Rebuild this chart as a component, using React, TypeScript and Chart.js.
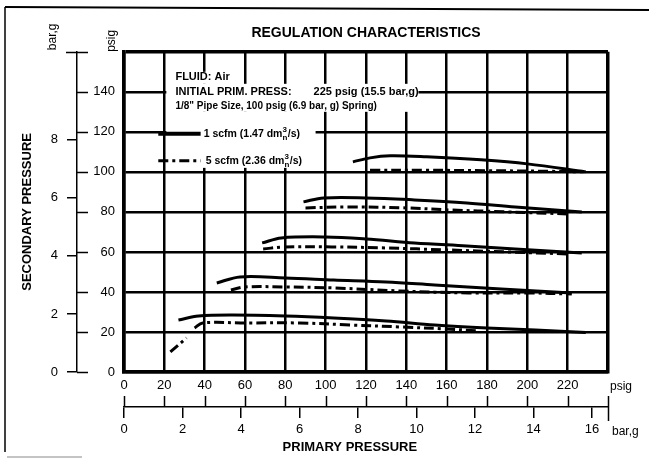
import React, { useEffect, useRef } from 'react';
import { Chart, registerables } from 'chart.js';

Chart.register(...registerables);

const FONT = '"Liberation Sans", Arial, Helvetica, sans-serif';
const PSI_PER_BAR = 14.5038;

// ---- axes ----
const primaryMin = 0;
const primaryMax = 240;
const primaryStep = 20;
const primaryBarStep = 2;
const secondaryMin = 0;
const secondaryMax = 160;
const secondaryStep = 20;
const secondaryBarTicks = [0, 2, 4, 6, 8];

// ---- curves (x = primary psig, y = secondary psig) ----
// 20 psig setting
const s20x = [27, 37, 54, 80, 104, 130, 154, 180, 204, 229];
const s20y = [26, 28, 28.5, 28, 27, 25.5, 23.5, 22, 21, 19.7];
const d20x = [23, 31, 33, 35, 39, 60, 87, 112, 137, 160, 176];
const d20y = [10, 17, null, 22, 24.5, 24.5, 24.5, 23.5, 22.5, 21.5, 20.5];
// 40 psig setting
const s40x = [46, 57.5, 80, 104, 130, 154, 187, 222];
const s40y = [44.5, 47.5, 47, 46, 45, 43.5, 41.5, 39.5];
const d40x = [53, 60, 80, 104, 137, 171, 200, 222];
const d40y = [41, 42.5, 42.5, 42, 40.5, 39.5, 39.5, 39];
// 60 psig setting
const s60x = [68.5, 78, 100, 120, 144, 170, 194, 227];
const s60y = [64.5, 67, 67.5, 66.5, 64.5, 63, 61.5, 59.5];
const d60x = [69, 80, 103, 130, 160, 190, 220];
const d60y = [61.5, 62.5, 62.5, 62, 61, 60, 59];
// 80 psig setting
const s80x = [89, 99, 120, 144, 170, 194, 227];
const s80y = [85, 87, 87, 86, 84.5, 82.5, 80];
const d80x = [90, 111, 140, 161, 190, 220];
const d80y = [82, 82.5, 82, 81, 80, 79];
// 100 psig setting
const s100x = [113.5, 122, 132, 150, 177, 200, 229];
const s100y = [105, 107, 108, 107.5, 106, 104, 100];
const d100x = [122, 150, 180, 210, 228];
const d100y = [100.8, 100.8, 100.6, 100.3, 100];

const solidCurves = [
  [s20x, s20y],
  [s40x, s40y],
  [s60x, s60y],
  [s80x, s80y],
  [s100x, s100y],
];
const dashCurves = [
  [d20x, d20y],
  [d40x, d40y],
  [d60x, d60y],
  [d80x, d80y],
  [d100x, d100y],
];

const DASH = [10, 4, 3, 4];

const toPts = (xs: number[], ys: (number | null)[]) => xs.map((x, i) => ({ x, y: ys[i] }));

const datasets: any[] = [
  ...solidCurves.map(([xs, ys], i) => ({
    label: `1 scfm ${i}`,
    data: toPts(xs as number[], ys as number[]),
    borderColor: '#000',
    borderWidth: 3,
    pointRadius: 0,
    tension: 0.35,
    fill: false,
  })),
  ...dashCurves.map(([xs, ys], i) => ({
    label: `5 scfm ${i}`,
    data: toPts(xs as number[], ys as (number | null)[]),
    borderColor: '#000',
    borderWidth: 3,
    borderDash: DASH,
    pointRadius: 0,
    tension: 0.35,
    fill: false,
  })),
];

type Part = string | { sup: string; sub: string };

function drawRich(ctx: CanvasRenderingContext2D, x: number, y: number, parts: Part[], size: number) {
  let cx = x;
  for (const p of parts) {
    if (typeof p === 'string') {
      ctx.font = `bold ${size}px ${FONT}`;
      ctx.fillText(p, cx, y);
      cx += ctx.measureText(p).width;
    } else {
      ctx.font = `bold ${Math.round(size * 0.78)}px ${FONT}`;
      ctx.fillText(p.sup, cx, y - size * 0.42);
      ctx.fillText(p.sub, cx, y + size * 0.38);
      cx += Math.max(ctx.measureText(p.sup).width, ctx.measureText(p.sub).width) + 0.5;
    }
  }
}

const decor = {
  id: 'decor',
  beforeDatasetsDraw(chart: any) {
    const { ctx } = chart;
    const x = chart.scales.x;
    const y = chart.scales.y;
    // white panels behind the notes (in psig units)
    const boxes = [
      [21, 57, 144, 150],
      [21, 146, 130, 144],
      [21, 95, 102, 130],
    ];
    ctx.save();
    ctx.fillStyle = '#fff';
    for (const [x0, x1, y0, y1] of boxes) {
      const l = x.getPixelForValue(x0);
      const r = x.getPixelForValue(x1);
      const t = y.getPixelForValue(y1);
      const b = y.getPixelForValue(y0);
      ctx.fillRect(l, t, r - l, b - t);
    }
    ctx.restore();
  },
  afterDraw(chart: any) {
    const { ctx, chartArea } = chart;
    const x = chart.scales.x;
    const y = chart.scales.y;
    const yBar = chart.scales.yBar;
    const xBar = chart.scales.xBar;
    ctx.save();
    ctx.strokeStyle = '#000';
    ctx.fillStyle = '#000';

    // scan frame
    ctx.lineWidth = 2;
    ctx.beginPath();
    ctx.moveTo(5, 7);
    ctx.lineTo(649, 10);
    ctx.stroke();
    ctx.lineWidth = 1.5;
    ctx.beginPath();
    ctx.moveTo(5, 7);
    ctx.lineTo(5, 452);
    ctx.stroke();
    ctx.strokeStyle = '#888';
    ctx.lineWidth = 1;
    ctx.beginPath();
    ctx.moveTo(7, 457);
    ctx.lineTo(82, 457);
    ctx.stroke();
    ctx.strokeStyle = '#000';

    // psig ticks on the left double axis
    const lx = yBar.right;
    ctx.lineWidth = 1.5;
    for (let v = secondaryMin; v < secondaryMax; v += secondaryStep) {
      const py = Math.round(y.getPixelForValue(v)) + 0.5;
      ctx.beginPath();
      ctx.moveTo(lx, py);
      ctx.lineTo(lx + 11, py);
      ctx.stroke();
    }
    {
      const py = Math.round(y.getPixelForValue(secondaryMax)) + 0.5;
      ctx.beginPath();
      ctx.moveTo(lx - 11, py);
      ctx.lineTo(lx + 11, py);
      ctx.stroke();
    }

    // psig ticks on the bottom double axis
    const ly = xBar.top;
    for (let v = primaryMin; v <= primaryMax; v += primaryStep) {
      const px = Math.round(x.getPixelForValue(v)) + 0.5;
      ctx.beginPath();
      ctx.moveTo(px, ly - 11);
      ctx.lineTo(px, ly + (v === primaryMax ? 14 : 0));
      ctx.stroke();
    }

    // rotated unit labels
    ctx.font = `12px ${FONT}`;
    ctx.textAlign = 'center';
    ctx.textBaseline = 'middle';
    const rot = (t: string, cx: number, cy: number) => {
      ctx.save();
      ctx.translate(cx, cy);
      ctx.rotate(-Math.PI / 2);
      ctx.fillText(t, 0, 0);
      ctx.restore();
    };
    rot('bar,g', lx - 24, chartArea.top - 15);
    rot('psig', chartArea.left - 12, chartArea.top - 11);

    // bottom unit labels
    ctx.textAlign = 'left';
    ctx.font = `12px ${FONT}`;
    ctx.fillText('psig', chartArea.right + 2, chartArea.bottom + 15);
    ctx.fillText('bar,g', chartArea.right + 4, ly + 25);

    // bottom axis title
    ctx.textAlign = 'center';
    ctx.font = `bold 13px ${FONT}`;
    ctx.fillText('PRIMARY PRESSURE', x.getPixelForValue(112), ly + 40);

    // notes
    ctx.textAlign = 'left';
    const tx = x.getPixelForValue(25.5);
    ctx.font = `bold 11px ${FONT}`;
    ctx.fillText('FLUID: Air', tx, y.getPixelForValue(147.5));
    ctx.fillText('INITIAL PRIM. PRESS:', tx, y.getPixelForValue(140));
    ctx.fillText('225 psig (15.5 bar,g)', x.getPixelForValue(94), y.getPixelForValue(140));
    ctx.font = `bold 10px ${FONT}`;
    ctx.fillText('1/8" Pipe Size, 100 psig (6.9 bar, g) Spring)', tx, y.getPixelForValue(133));

    // legend samples
    const sx0 = x.getPixelForValue(17);
    const sx1 = x.getPixelForValue(38);
    const r1 = y.getPixelForValue(119);
    const r2 = y.getPixelForValue(105.5);
    ctx.lineWidth = 4;
    ctx.beginPath();
    ctx.moveTo(sx0, r1);
    ctx.lineTo(sx1, r1);
    ctx.stroke();
    ctx.lineWidth = 3;
    ctx.setLineDash(DASH);
    ctx.beginPath();
    ctx.moveTo(sx0, r2);
    ctx.lineTo(sx1, r2);
    ctx.stroke();
    ctx.setLineDash([]);
    drawRich(ctx, x.getPixelForValue(39.5), r1, ['1 scfm (1.47 dm', { sup: '3', sub: 'n' }, '/s)'], 10.5);
    drawRich(ctx, x.getPixelForValue(40.5), r2, ['5 scfm (2.36 dm', { sup: '3', sub: 'n' }, '/s)'], 10.5);

    ctx.restore();
  },
};

const edgeWidth = (c: any, max: number) => {
  const v = c.tick ? c.tick.value : null;
  return v === 0 || v === max ? 3.5 : 2.5;
};

export default function App() {
  const ref = useRef<HTMLCanvasElement>(null);
  useEffect(() => {
    const canvas = ref.current;
    if (!canvas) return;
    const chart = new Chart(canvas, {
      type: 'line',
      data: { datasets },
      plugins: [decor],
      options: {
        animation: false,
        responsive: false,
        devicePixelRatio: 1,
        layout: { padding: { left: 0, right: 41, top: 0, bottom: 0 } },
        plugins: {
          legend: { display: false },
          tooltip: { enabled: false },
          title: {
            display: true,
            text: 'REGULATION CHARACTERISTICS',
            color: '#000',
            fullSize: false,
            font: { family: FONT, size: 14, weight: 'bold' },
            padding: { top: 25, bottom: 10 },
          },
        },
        scales: {
          x: {
            type: 'linear',
            position: 'bottom',
            weight: 0,
            min: primaryMin,
            max: primaryMax,
            afterFit: (s: any) => {
              s.height = 35;
            },
            ticks: {
              stepSize: primaryStep,
              autoSkip: false,
              maxRotation: 0,
              padding: 6,
              color: '#000',
              font: { family: FONT, size: 13 },
              callback: (v: any) => (v >= primaryMax ? '' : String(v)),
            },
            grid: { color: '#000', lineWidth: (c: any) => edgeWidth(c, primaryMax), drawTicks: false },
            border: { display: true, color: '#000', width: 3.5 },
          },
          xBar: {
            type: 'linear',
            position: 'bottom',
            weight: 1,
            min: primaryMin / PSI_PER_BAR,
            max: primaryMax / PSI_PER_BAR,
            afterFit: (s: any) => {
              s.height = 51;
            },
            ticks: {
              stepSize: primaryBarStep,
              includeBounds: false,
              autoSkip: false,
              maxRotation: 0,
              padding: 4,
              color: '#000',
              font: { family: FONT, size: 13 },
            },
            grid: { drawOnChartArea: false, drawTicks: true, tickLength: 11, color: '#000', lineWidth: 1.5 },
            border: { display: true, color: '#000', width: 1.5 },
          },
          y: {
            type: 'linear',
            position: 'left',
            weight: 0,
            min: secondaryMin,
            max: secondaryMax,
            afterFit: (s: any) => {
              s.width = 47;
            },
            ticks: {
              stepSize: secondaryStep,
              padding: 9,
              color: '#000',
              font: { family: FONT, size: 13 },
              callback: (v: any) => (v >= secondaryMax ? '' : String(v)),
            },
            grid: { color: '#000', lineWidth: (c: any) => edgeWidth(c, secondaryMax), drawTicks: false },
            border: { display: true, color: '#000', width: 3.5 },
          },
          yBar: {
            type: 'linear',
            position: 'left',
            weight: 1,
            min: secondaryMin / PSI_PER_BAR,
            max: secondaryMax / PSI_PER_BAR,
            afterFit: (s: any) => {
              s.width = 77;
            },
            afterBuildTicks: (s: any) => {
              s.ticks = secondaryBarTicks.map((v) => ({ value: v }));
            },
            ticks: {
              padding: 9,
              color: '#000',
              font: { family: FONT, size: 13 },
            },
            grid: { drawOnChartArea: false, drawTicks: true, tickLength: 10, color: '#000', lineWidth: 1.5 },
            border: { display: true, color: '#000', width: 1.5 },
            title: {
              display: true,
              text: 'SECONDARY PRESSURE',
              color: '#000',
              font: { family: FONT, size: 13, weight: 'bold' },
              padding: { top: 20, bottom: 0 },
            },
          },
        },
      } as any,
    });
    return () => chart.destroy();
  }, []);
  return (
    <div style={{ position: 'absolute', left: 0, top: 0, width: 649, height: 458, background: '#fff' }}>
      <canvas ref={ref} width={649} height={458} style={{ display: 'block' }} />
    </div>
  );
}
